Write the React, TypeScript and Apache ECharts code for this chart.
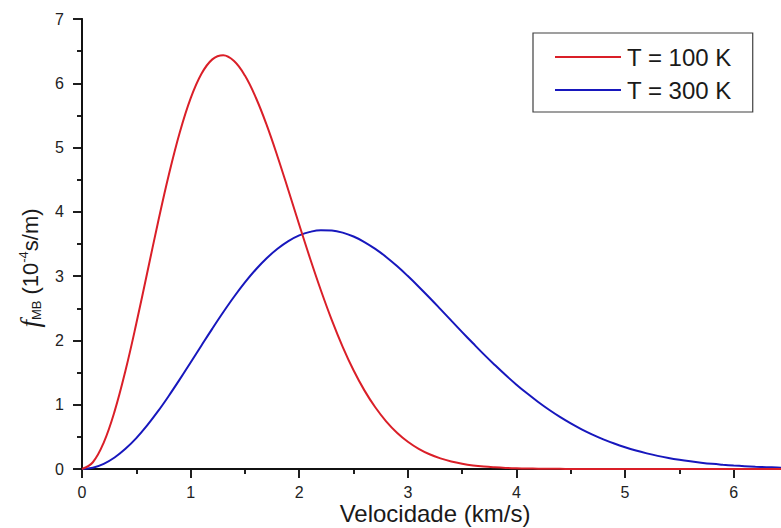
import React, { useEffect, useRef } from "react";
import * as echarts from "echarts";

const seriesNames = ["T = 100 K", "T = 300 K"];
const velocities = [
  0.0, 0.1, 0.2, 0.3, 0.4, 0.5, 0.6, 0.7, 0.8, 0.9,
  1.0, 1.1, 1.2, 1.3, 1.4, 1.5, 1.6, 1.7, 1.8, 1.9,
  2.0, 2.1, 2.2, 2.3, 2.4, 2.5, 2.6, 2.7, 2.8, 2.9,
  3.0, 3.1, 3.2, 3.3, 3.4, 3.5, 3.6, 3.7, 3.8, 3.9,
  4.0, 4.1, 4.2, 4.3, 4.4, 4.5, 4.6, 4.7, 4.8, 4.9,
  5.0, 5.1, 5.2, 5.3, 5.4, 5.5, 5.6, 5.7, 5.8, 5.9,
  6.0, 6.1, 6.2, 6.3, 6.4, 6.5,
];
const f100 = [
  0.0, 0.105, 0.411, 0.896, 1.528, 2.262, 3.049, 3.838, 4.58, 5.234,
  5.765, 6.148, 6.372, 6.436, 6.346, 6.12, 5.779, 5.352, 4.862, 4.336,
  3.8, 3.275, 2.777, 2.316, 1.901, 1.536, 1.223, 0.96, 0.742, 0.565,
  0.424, 0.314, 0.229, 0.165, 0.117, 0.082, 0.056, 0.038, 0.026, 0.017,
  0.011, 0.007, 0.005, 0.003, 0.002, 0.001, 0.0, 0.0, 0.0, 0.0,
  0.0, 0.0, 0.0, 0.0, 0.0, 0.0, 0.0, 0.0, 0.0, 0.0,
  0.0, 0.0, 0.0, 0.0, 0.0, 0.0,
];
const f300 = [
  0.0, 0.02, 0.08, 0.179, 0.314, 0.481, 0.678, 0.899, 1.14, 1.394,
  1.657, 1.922, 2.184, 2.438, 2.679, 2.902, 3.103, 3.278, 3.426, 3.545,
  3.633, 3.689, 3.715, 3.71, 3.677, 3.616, 3.531, 3.424, 3.299, 3.157,
  3.001, 2.836, 2.664, 2.487, 2.308, 2.13, 1.955, 1.783, 1.619, 1.461,
  1.312, 1.173, 1.042, 0.921, 0.81, 0.709, 0.617, 0.535, 0.461, 0.396,
  0.338, 0.287, 0.243, 0.204, 0.171, 0.143, 0.119, 0.098, 0.08, 0.066,
  0.054, 0.044, 0.035, 0.028, 0.023, 0.018,
];
const xTickLabels = ["0", "1", "2", "3", "4", "5", "6"];
const yTickLabels = ["0", "1", "2", "3", "4", "5", "6", "7"];

const seriesColors = ["#da1f28", "#1717bd"];

export default function App() {
  const ref = useRef<HTMLDivElement>(null);
  useEffect(() => {
    document.body.style.margin = "0";
    if (!ref.current) return;
    const chart = echarts.init(ref.current, null, { renderer: "svg" });
    const axisLine = { show: true, lineStyle: { color: "#111", width: 1.8 } };
    const labelFont = {
      fontFamily: "Liberation Sans, Arial, sans-serif",
      fontSize: 16,
      lineHeight: 16,
      color: "#222",
    };
    const baseX = {
      type: "value" as const,
      min: 0,
      max: 6.5,
      interval: 1,
      splitLine: { show: false },
      axisLine,
    };
    const baseY = {
      type: "value" as const,
      min: 0,
      max: 7,
      interval: 1,
      splitLine: { show: false },
      axisLine,
    };
    const mkData = (ys: number[]) => velocities.map((v, i) => [v, ys[i]]);
    chart.setOption({
      animation: false,
      backgroundColor: "#fff",
      grid: {
        left: 82,
        top: 19,
        width: 706,
        height: 450,
        containLabel: false,
        outerBoundsMode: "none",
      },
      legend: {
        orient: "vertical",
        left: 533,
        top: 33,
        data: seriesNames,
        icon: "rect",
        itemWidth: 66,
        itemHeight: 2,
        itemGap: 5,
        padding: [10, 21, 8, 22],
        borderColor: "#404040",
        borderWidth: 1.2,
        backgroundColor: "#fff",
        textStyle: {
          fontFamily: "Liberation Sans, Arial, sans-serif",
          fontSize: 24,
          lineHeight: 28,
          color: "#1a1a1a",
          padding: [0, 0, 0, 1],
        },
      },
      xAxis: [
        {
          ...baseX,
          position: "bottom",
          axisTick: { show: true, inside: false, length: 9, lineStyle: { color: "#111", width: 1.5 } },
          minorTick: { show: true, splitNumber: 2, length: 5, lineStyle: { color: "#111", width: 1.5 } },
          axisLabel: {
            ...labelFont,
            margin: 15,
            showMaxLabel: false,
            formatter: (v: number) => (Number.isInteger(v) ? xTickLabels[v] ?? "" : ""),
          },
          name: "Velocidade (km/s)",
          nameLocation: "middle",
          nameGap: 32,
          nameMoveOverlap: false,
          nameTextStyle: {
            fontFamily: "Liberation Sans, Arial, sans-serif",
            fontSize: 24,
            lineHeight: 24,
            color: "#1a1a1a",
          },
        },
        {
          ...baseX,
          position: "top",
          axisTick: { show: true, inside: true, length: 9, lineStyle: { color: "#111", width: 1.5 } },
          minorTick: { show: true, splitNumber: 2, length: 5, lineStyle: { color: "#111", width: 1.5 } },
          axisLabel: { show: false },
        },
      ],
      yAxis: [
        {
          ...baseY,
          position: "left",
          axisTick: { show: true, inside: false, length: 9, lineStyle: { color: "#111", width: 1.5 } },
          minorTick: { show: true, splitNumber: 2, length: 5, lineStyle: { color: "#111", width: 1.5 } },
          axisLabel: {
            ...labelFont,
            margin: 18,
            formatter: (v: number) => yTickLabels[v] ?? "",
          },
        },
        {
          ...baseY,
          position: "right",
          axisTick: { show: true, inside: true, length: 9, lineStyle: { color: "#111", width: 1.5 } },
          minorTick: { show: true, splitNumber: 2, length: 5, lineStyle: { color: "#111", width: 1.5 } },
          axisLabel: { show: false },
        },
      ],
      graphic: [
        {
          type: "text",
          x: 30,
          y: 268,
          rotation: Math.PI / 2,
          style: {
            text: "{f|f}{sub|MB}{n| (10}{sup|-4}{n|s/m)}",
            align: "center",
            verticalAlign: "middle",
            fill: "#1a1a1a",
            rich: {
              f: {
                fontFamily: "Liberation Serif, Times New Roman, serif",
                fontStyle: "italic",
                fontSize: 27,
                lineHeight: 26,
                fill: "#1a1a1a",
              },
              sub: {
                fontFamily: "Liberation Sans, Arial, sans-serif",
                fontSize: 13,
                lineHeight: 13,
                verticalAlign: "bottom",
                fill: "#1a1a1a",
              },
              n: {
                fontFamily: "Liberation Sans, Arial, sans-serif",
                fontSize: 22,
                lineHeight: 26,
                fill: "#1a1a1a",
              },
              sup: {
                fontFamily: "Liberation Sans, Arial, sans-serif",
                fontSize: 13,
                lineHeight: 13,
                verticalAlign: "top",
                fill: "#1a1a1a",
              },
            },
          },
        },
      ],
      series: [
        {
          name: seriesNames[0],
          type: "line",
          data: mkData(f100),
          smooth: 0.4,
          showSymbol: false,
          symbol: "none",
          lineStyle: { color: seriesColors[0], width: 2 },
          itemStyle: { color: seriesColors[0] },
          z: 3,
        },
        {
          name: seriesNames[1],
          type: "line",
          data: mkData(f300),
          smooth: 0.4,
          showSymbol: false,
          symbol: "none",
          lineStyle: { color: seriesColors[1], width: 2 },
          itemStyle: { color: seriesColors[1] },
          z: 2,
        },
      ],
    });
    return () => chart.dispose();
  }, []);
  return <div ref={ref} style={{ width: 781, height: 528 }} />;
}
